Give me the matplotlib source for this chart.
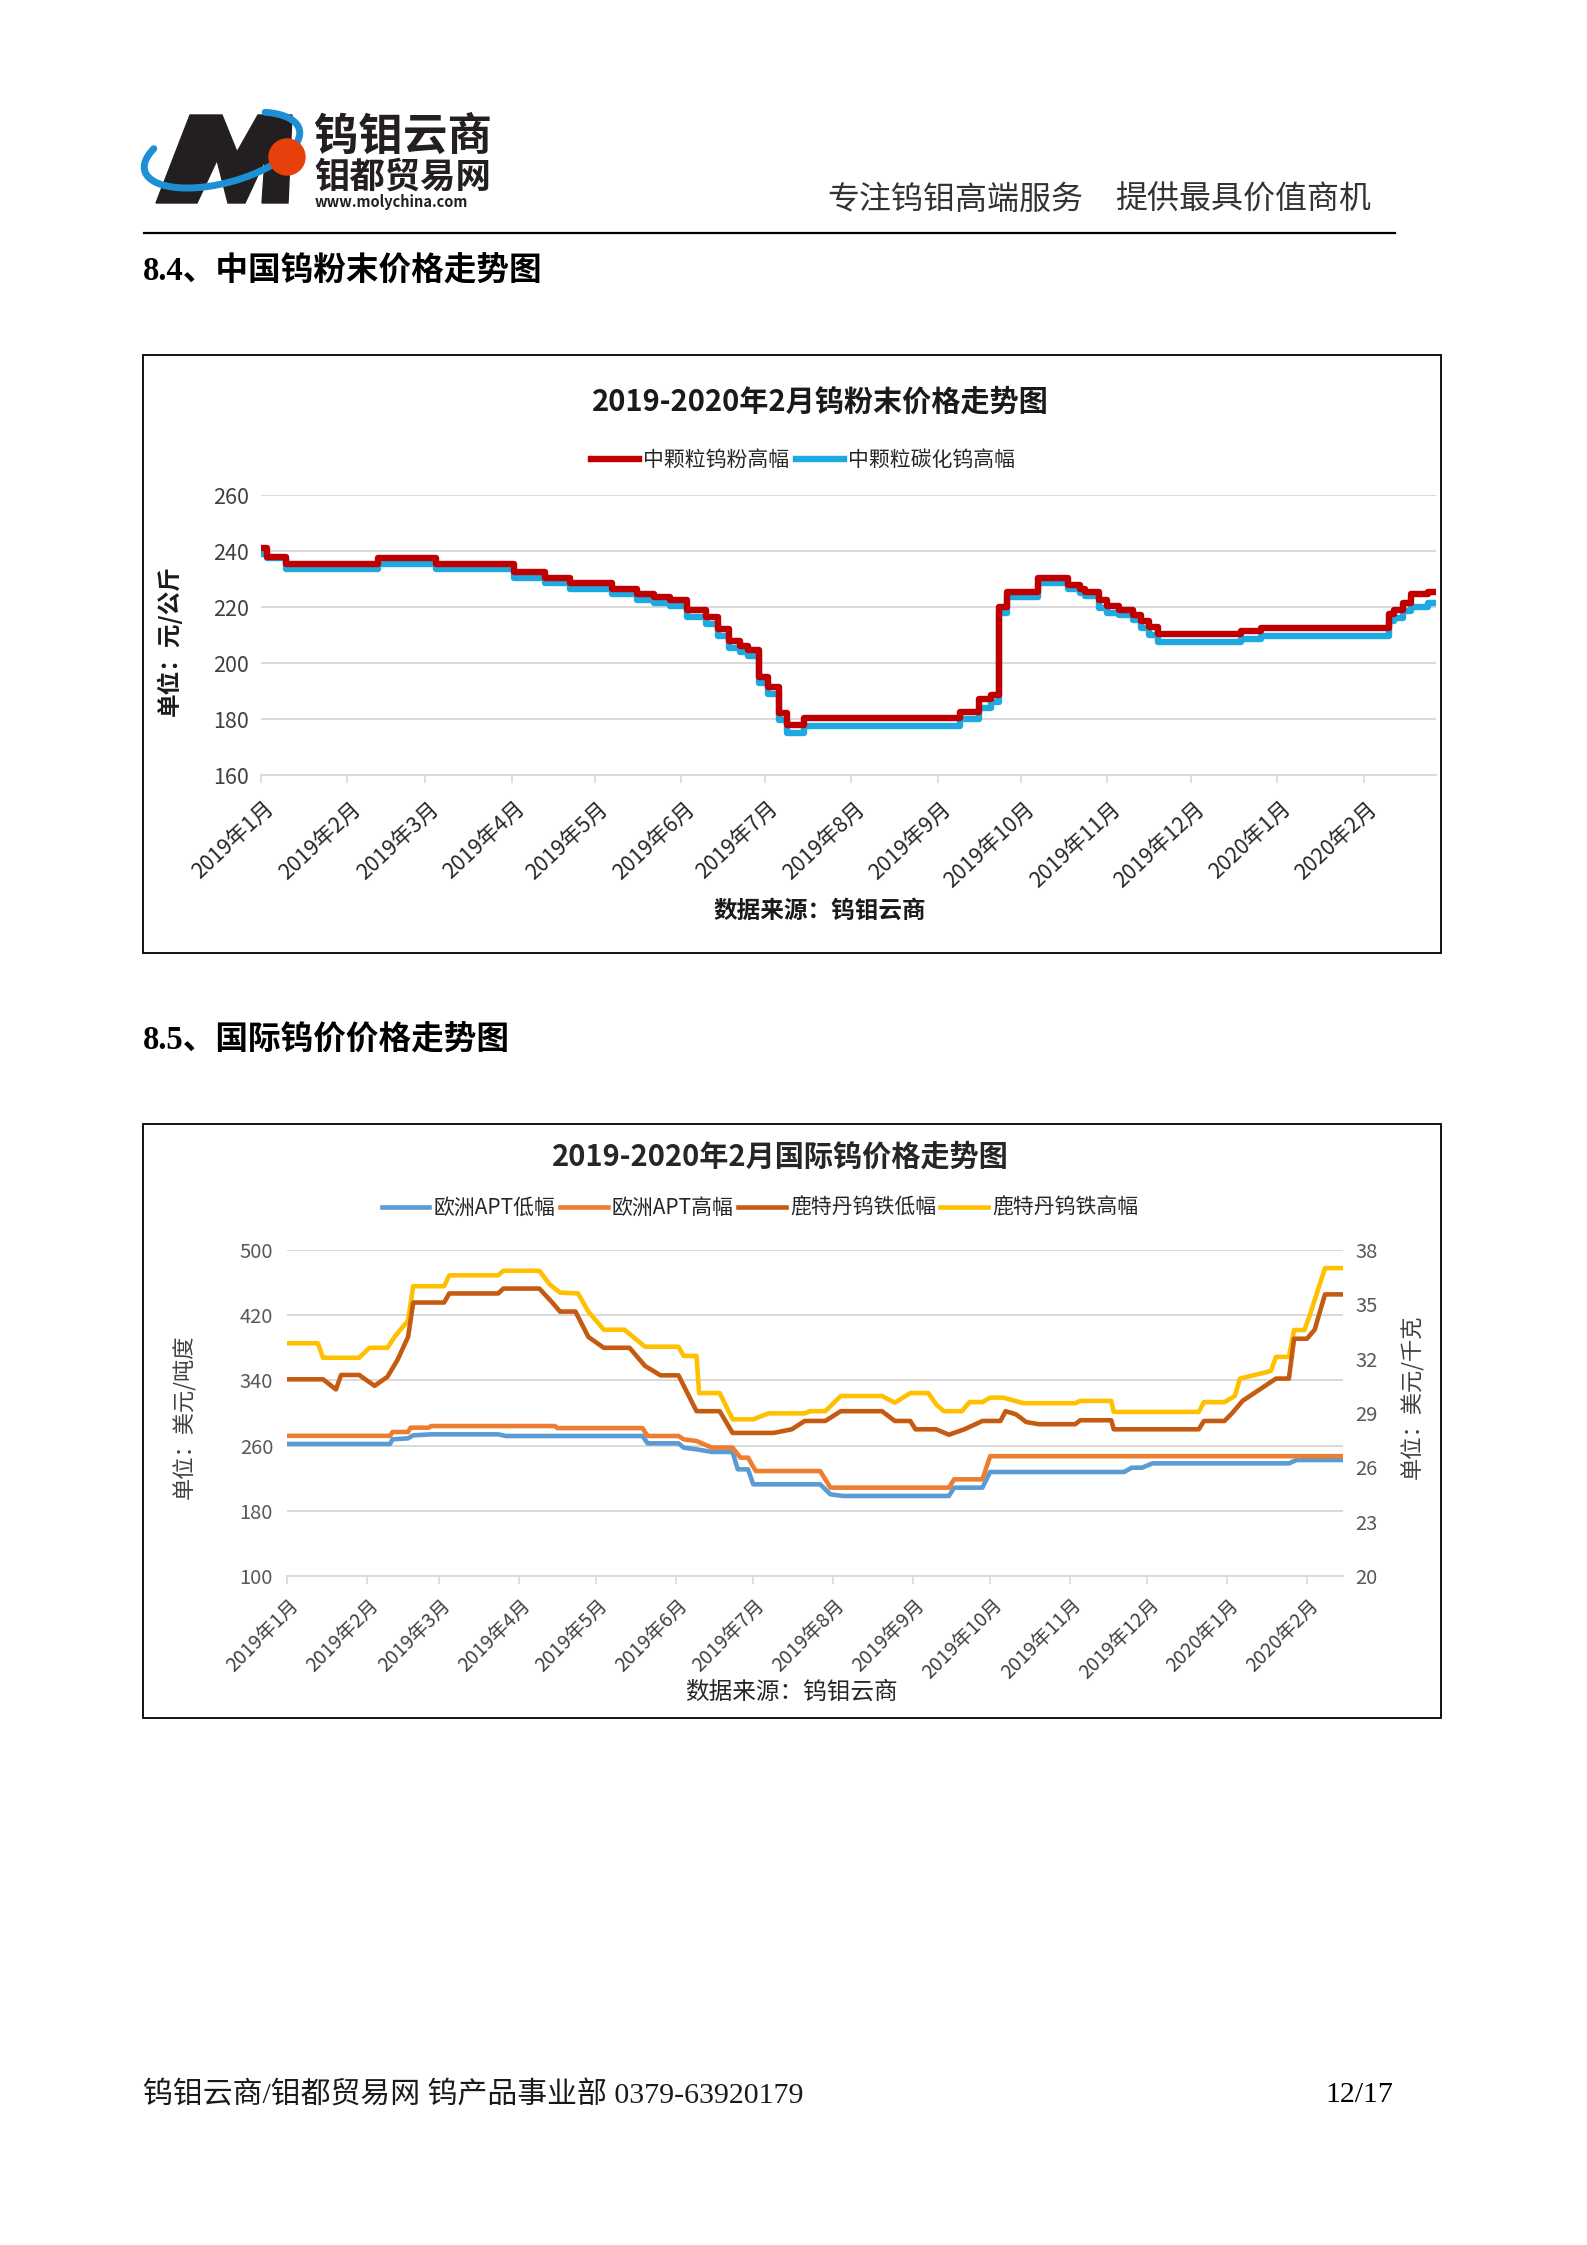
import numpy as np
import pandas as pd
import matplotlib
matplotlib.use('Agg')
import matplotlib.pyplot as plt
from matplotlib.patches import Rectangle, Polygon, Circle
from matplotlib.transforms import ScaledTranslation

plt.rcParams['font.family'] = ['Noto Sans CJK SC', 'DejaVu Sans']
plt.rcParams['axes.unicode_minus'] = False

# ---------------- data: chart 1 (China tungsten powder, 元/公斤) ----------------
powder_dates = ['2019-01-01', '2019-01-03', '2019-01-10', '2019-02-12', '2019-03-05',
                '2019-04-02', '2019-04-13', '2019-04-22', '2019-05-07', '2019-05-16',
                '2019-05-22', '2019-05-28', '2019-06-03', '2019-06-10', '2019-06-14',
                '2019-06-18', '2019-06-22', '2019-06-25', '2019-06-29', '2019-07-02',
                '2019-07-06', '2019-07-09', '2019-07-15', '2019-09-09', '2019-09-16',
                '2019-09-20', '2019-09-23', '2019-09-26', '2019-10-07', '2019-10-18',
                '2019-10-22', '2019-10-24', '2019-10-29', '2019-11-01', '2019-11-05',
                '2019-11-10', '2019-11-13', '2019-11-16', '2019-11-19', '2019-12-19',
                '2019-12-26', '2020-02-10', '2020-02-12', '2020-02-15', '2020-02-18',
                '2020-02-24', '2020-02-27']
w_powder_high = [241, 238, 235.5, 237.5, 235.5, 232.5, 230.5, 228.5, 226.5, 224.5,
                 223.5, 222.5, 219, 216.5, 212, 208, 206, 204.5, 195, 191.5,
                 182, 178, 180.5, 182.5, 187, 188.5, 220, 225.5, 230.5, 228,
                 226.5, 225.5, 222.5, 220.5, 219, 217, 215, 213, 210.5, 211.5,
                 212.5, 217.5, 219, 221.5, 224.5, 225.5, 225.5]
wc_powder_high = [239, 237.5, 233.5, 235.5, 233.5, 230.5, 228.5, 226.5, 224.5, 222.5,
                  221.5, 220.5, 216.5, 214, 209.5, 205.5, 204, 202.5, 193, 189,
                  179.5, 175, 177.5, 180, 184, 186, 218, 223.5, 228.5, 226.5,
                  225, 224, 219.5, 218, 217, 215.5, 212.5, 210, 207.5, 208.5,
                  209.5, 215, 216, 218.5, 220, 221.5, 221.5]
powder_labels = ['中颗粒钨粉高幅', '中颗粒碳化钨高幅']

# ---------------- data: chart 2 (international prices) ----------------
apt_low_dates = ['2019-01-01', '2019-02-10', '2019-02-11', '2019-02-17', '2019-02-19',
                 '2019-02-26', '2019-03-24', '2019-03-27', '2019-05-19', '2019-05-21',
                 '2019-06-02', '2019-06-04', '2019-06-09', '2019-06-15', '2019-06-23',
                 '2019-06-25', '2019-06-29', '2019-07-01', '2019-07-27', '2019-07-31',
                 '2019-08-05', '2019-09-15', '2019-09-17', '2019-09-28', '2019-10-01',
                 '2019-11-22', '2019-11-25', '2019-11-29', '2019-12-03', '2020-01-25',
                 '2020-01-28', '2020-02-15']
apt_low = [262, 262, 267.7, 268.9, 272.6, 273.8, 273.8, 271.8, 271.8, 262.8,
           262.8, 257.5, 255.4, 252.2, 252.2, 230.9, 230.9, 212.5, 212.5, 200.2,
           198.2, 198.2, 208.4, 208.4, 227.6, 227.6, 232.9, 232.9, 238.2, 238.2,
           242.3, 242.3]

apt_high_dates = ['2019-01-01', '2019-02-10', '2019-02-11', '2019-02-17', '2019-02-18',
                  '2019-02-25', '2019-02-26', '2019-04-15', '2019-04-16', '2019-05-19',
                  '2019-05-21', '2019-06-02', '2019-06-04', '2019-06-09', '2019-06-15',
                  '2019-06-23', '2019-06-26', '2019-06-29', '2019-07-02', '2019-07-27',
                  '2019-07-31', '2019-09-15', '2019-09-17', '2019-09-28', '2019-10-01',
                  '2020-02-15']
apt_high = [272, 272, 276.7, 276.7, 282, 282, 284, 284, 281.5, 281.5,
            271.8, 271.8, 267.7, 265.6, 257.5, 257.5, 245.2, 245.2, 228.8, 228.8,
            208.4, 208.4, 218.6, 218.6, 247, 247]

few_low_dates = ['2019-01-01', '2019-01-15', '2019-01-20', '2019-01-22', '2019-01-29',
                 '2019-02-04', '2019-02-09', '2019-02-13', '2019-02-17', '2019-02-19',
                 '2019-03-03', '2019-03-05', '2019-03-24', '2019-03-26', '2019-04-09',
                 '2019-04-14', '2019-04-17', '2019-04-23', '2019-04-28', '2019-04-30',
                 '2019-05-04', '2019-05-14', '2019-05-20', '2019-05-26', '2019-06-02',
                 '2019-06-09', '2019-06-18', '2019-06-23', '2019-07-09', '2019-07-16',
                 '2019-07-21', '2019-07-29', '2019-08-04', '2019-08-20', '2019-08-25',
                 '2019-08-31', '2019-09-02', '2019-09-10', '2019-09-15', '2019-09-21',
                 '2019-09-28', '2019-10-05', '2019-10-07', '2019-10-11', '2019-10-15',
                 '2019-10-20', '2019-11-03', '2019-11-05', '2019-11-17', '2019-11-18',
                 '2019-12-21', '2019-12-23', '2019-12-31', '2020-01-03', '2020-01-07',
                 '2020-01-20', '2020-01-25', '2020-01-27', '2020-02-01', '2020-02-04',
                 '2020-02-08', '2020-02-15']
few_low = [30.86, 30.86, 30.3, 31.1, 31.1, 30.5, 31.0, 31.96, 33.2, 35.1,
           35.1, 35.6, 35.6, 35.87, 35.87, 35.1, 34.6, 34.6, 33.2, 33.0,
           32.6, 32.6, 31.6, 31.08, 31.08, 29.1, 29.1, 27.9, 27.9, 28.1,
           28.56, 28.56, 29.1, 29.1, 28.56, 28.56, 28.1, 28.1, 27.8, 28.1,
           28.56, 28.56, 29.1, 28.93, 28.5, 28.38, 28.38, 28.6, 28.6, 28.1,
           28.1, 28.56, 28.56, 29.0, 29.67, 30.9, 30.9, 33.1, 33.1, 33.6,
           35.55, 35.55]

few_high_dates = ['2019-01-01', '2019-01-13', '2019-01-15', '2019-01-29', '2019-02-02',
                  '2019-02-09', '2019-02-12', '2019-02-17', '2019-02-19', '2019-03-03',
                  '2019-03-05', '2019-03-24', '2019-03-26', '2019-04-09', '2019-04-13',
                  '2019-04-17', '2019-04-24', '2019-04-28', '2019-05-04', '2019-05-12',
                  '2019-05-20', '2019-06-02', '2019-06-04', '2019-06-09', '2019-06-10',
                  '2019-06-18', '2019-06-23', '2019-07-01', '2019-07-07', '2019-07-21',
                  '2019-07-23', '2019-07-29', '2019-08-04', '2019-08-20', '2019-08-25',
                  '2019-08-31', '2019-09-07', '2019-09-10', '2019-09-13', '2019-09-20',
                  '2019-09-23', '2019-09-28', '2019-10-01', '2019-10-06', '2019-10-14',
                  '2019-11-03', '2019-11-05', '2019-11-17', '2019-11-18', '2019-12-21',
                  '2019-12-23', '2019-12-31', '2020-01-04', '2020-01-06', '2020-01-18',
                  '2020-01-20', '2020-01-25', '2020-01-27', '2020-01-31', '2020-02-02',
                  '2020-02-08', '2020-02-15']
few_high = [32.85, 32.85, 32.05, 32.05, 32.6, 32.6, 33.25, 34.1, 36.0, 36.0,
            36.6, 36.6, 36.85, 36.85, 36.1, 35.65, 35.6, 34.6, 33.6, 33.6,
            32.66, 32.66, 32.15, 32.15, 30.1, 30.1, 28.65, 28.65, 28.98, 28.98,
            29.1, 29.1, 29.94, 29.94, 29.57, 30.1, 30.1, 29.48, 29.1, 29.1,
            29.6, 29.6, 29.85, 29.85, 29.54, 29.54, 29.67, 29.67, 29.06, 29.06,
            29.6, 29.6, 29.94, 30.9, 31.32, 32.1, 32.1, 33.58, 33.58, 34.36,
            37.0, 37.0]
intl_labels = ['欧洲APT低幅', '欧洲APT高幅', '鹿特丹钨铁低幅', '鹿特丹钨铁高幅']

month_starts = pd.date_range('2019-01-01', '2020-02-01', freq='MS')
month_labels = [f'{d.year}年{d.month}月' for d in month_starts]

# ---------------- figure ----------------
W, H = 1587, 2245
DPI = 100
fig = plt.figure(figsize=(W / DPI, H / DPI), dpi=DPI)
fig.patch.set_facecolor('white')

page = fig.add_axes([0, 0, 1, 1])
page.set_xlim(0, W)
page.set_ylim(H, 0)
page.axis('off')


def rect(x0, y0, x1, y1):
    return [x0 / W, 1 - y1 / H, (x1 - x0) / W, (y1 - y0) / H]


SERIF_CJK = ['Liberation Serif', 'Noto Sans CJK SC']

# ---- header logo ----
m_poly = [(156, 203), (190, 115), (222, 115), (237, 152), (258, 115), (292, 115),
          (288, 203), (262, 203), (265, 160), (245, 203), (228, 203), (217, 160), (197, 203)]
page.add_patch(Polygon(m_poly, closed=True, color='#231F20', zorder=2))
t = np.radians(np.linspace(-50, 215, 200))
a, b, phi = 80, 33, np.radians(-15)
cx, cy = 222, 150
xs = cx + a * np.cos(t) * np.cos(phi) - b * np.sin(t) * np.sin(phi)
ys = cy + a * np.cos(t) * np.sin(phi) + b * np.sin(t) * np.cos(phi)
page.plot(xs, ys, color='#1E8FD5', lw=5, solid_capstyle='round', zorder=3)
page.add_patch(Circle((287, 157), 18, color='#E8400C', zorder=4))
page.text(314, 138, '钨钼云商', fontsize=32, fontweight='bold', color='#231F20', va='center', ha='left')
page.text(314, 177, '钼都贸易网', fontsize=25.5, fontweight='bold', color='#231F20', va='center', ha='left')
page.text(315, 202, 'www.molychina.com', fontsize=10.5, fontweight='bold', color='#231F20', va='center', ha='left')

page.text(1083, 200, '专注钨钼高端服务', fontsize=23, color='#333333', va='center', ha='right')
page.text(1371, 200, '提供最具价值商机', fontsize=23, color='#333333', va='center', ha='right')
page.plot([144, 1395], [233, 233], color='black', lw=1.6)

page.text(143, 272, '8.4、中国钨粉末价格走势图', fontsize=23.5, fontweight='bold',
          family=SERIF_CJK, va='center', ha='left')
page.text(143, 1041, '8.5、国际钨价价格走势图', fontsize=23.5, fontweight='bold',
          family=SERIF_CJK, va='center', ha='left')

page.text(143, 2095, '钨钼云商/钼都贸易网 钨产品事业部 0379-63920179', fontsize=21.5,
          family=SERIF_CJK, va='center', ha='left', color='#1a1a1a')
page.text(1393, 2095, '12/17', fontsize=21.5, family=SERIF_CJK, va='center', ha='right')

# chart frames
page.add_patch(Rectangle((143, 355), 1298, 598, fill=False, ec='black', lw=1.3))
page.add_patch(Rectangle((143, 1124), 1298, 594, fill=False, ec='black', lw=1.3))

GRID = '#D9D9D9'

# ---------------- chart 1 ----------------
ax1 = fig.add_axes(rect(261, 495, 1436, 775))
ax1.set_facecolor('none')
pd_dates = pd.to_datetime(powder_dates)
l1, = ax1.step(pd_dates, w_powder_high, where='post', color='#C00000', lw=4.6, zorder=3)
l2, = ax1.step(pd_dates, wc_powder_high, where='post', color='#1FA9E1', lw=4.6, zorder=2)
ax1.set_ylim(160, 260)
ax1.set_yticks(np.arange(160, 261, 20))
ax1.set_xlim(pd_dates[0], pd_dates[-1])
ax1.grid(axis='y', color=GRID, lw=1.4)
ax1.set_axisbelow(True)
for s in ['top', 'right', 'left']:
    ax1.spines[s].set_visible(False)
ax1.spines['bottom'].set_color(GRID)
ax1.spines['bottom'].set_linewidth(1.4)
ax1.tick_params(axis='y', length=0, pad=9, labelsize=15.5, labelcolor='#404040')
ax1.set_xticks(month_starts)
ax1.set_xticklabels(month_labels)
ax1.tick_params(axis='x', length=6, width=1.2, color=GRID, direction='out', pad=16,
                labelsize=15.5, labelcolor='#262626')
off1 = ScaledTranslation(10 / DPI, 0, fig.dpi_scale_trans)
for lab in ax1.get_xticklabels():
    lab.set_rotation(43)
    lab.set_ha('right')
    lab.set_va('center')
    lab.set_rotation_mode('anchor')
    lab.set_transform(lab.get_transform() + off1)

ax1.legend([l1, l2], powder_labels, loc='center', bbox_to_anchor=(803 / W, 1 - 460 / H),
           bbox_transform=fig.transFigure, ncol=2, frameon=False, fontsize=15,
           handlelength=2.3, handletextpad=0.2, columnspacing=0.3, labelcolor='#262626')
page.text(820, 402, '2019-2020年2月钨粉末价格走势图', fontsize=21, fontweight='bold',
          color='#1a1a1a', va='center', ha='center')
page.text(169, 641, '单位：元/公斤', fontsize=17, fontweight='bold', rotation=90,
          va='center', ha='center', color='#1a1a1a')
page.text(820, 911, '数据来源：钨钼云商', fontsize=17, fontweight='bold',
          va='center', ha='center', color='#1a1a1a')

# ---------------- chart 2 ----------------
ax2 = fig.add_axes(rect(287, 1250, 1343, 1576))
ax2.set_facecolor('none')
h1, = ax2.plot(pd.to_datetime(apt_low_dates), apt_low, color='#5B9BD5', lw=3.3, zorder=3)
h2, = ax2.plot(pd.to_datetime(apt_high_dates), apt_high, color='#ED7D31', lw=3.3, zorder=3)
ax2.set_ylim(100, 500)
ax2.set_yticks(np.arange(100, 501, 80))
ax2.set_xlim(pd.Timestamp('2019-01-01'), pd.Timestamp('2020-02-15'))
ax2.grid(axis='y', color=GRID, lw=1.4)
ax2.set_axisbelow(True)
for s in ['top', 'right', 'left']:
    ax2.spines[s].set_visible(False)
ax2.spines['bottom'].set_color(GRID)
ax2.spines['bottom'].set_linewidth(1.4)
ax2.tick_params(axis='y', length=0, pad=10, labelsize=14.5, labelcolor='#595959')
ax2.set_xticks(month_starts)
ax2.set_xticklabels(month_labels)
ax2.tick_params(axis='x', length=6, width=1.2, color=GRID, direction='out', pad=13,
                labelsize=14, labelcolor='#404040')
off2 = ScaledTranslation(9 / DPI, 0, fig.dpi_scale_trans)
for lab in ax2.get_xticklabels():
    lab.set_rotation(45)
    lab.set_ha('right')
    lab.set_va('center')
    lab.set_rotation_mode('anchor')
    lab.set_transform(lab.get_transform() + off2)

ax2r = ax2.twinx()
ax2r.set_facecolor('none')
h3, = ax2r.plot(pd.to_datetime(few_low_dates), few_low, color='#C55A11', lw=3.3, zorder=3)
h4, = ax2r.plot(pd.to_datetime(few_high_dates), few_high, color='#FFC000', lw=3.3, zorder=2)
ax2r.set_ylim(20, 38)
ax2r.set_yticks(np.arange(20, 39, 3))
for s in ['top', 'right', 'left', 'bottom']:
    ax2r.spines[s].set_visible(False)
ax2r.tick_params(axis='y', length=0, pad=9, labelsize=14.5, labelcolor='#595959')

ax2r.legend([h1, h2, h3, h4], intl_labels, loc='center', bbox_to_anchor=(760 / W, 1 - 1208 / H),
            bbox_transform=fig.transFigure, ncol=4, frameon=False, fontsize=15,
            handlelength=2.3, handletextpad=0.2, columnspacing=0.2, labelcolor='#262626')
page.text(780, 1157, '2019-2020年2月国际钨价格走势图', fontsize=21, fontweight='bold',
          color='#262626', va='center', ha='center')
page.text(185, 1417, '单位：美元/吨度', fontsize=16, rotation=90, va='center', ha='center',
          color='#404040')
page.text(1413, 1397, '单位：美元/千克', fontsize=16, rotation=90, va='center', ha='center',
          color='#404040')
page.text(791, 1692, '数据来源：钨钼云商', fontsize=17, va='center', ha='center', color='#262626')

fig.savefig('out.png', dpi=DPI, facecolor='white')
